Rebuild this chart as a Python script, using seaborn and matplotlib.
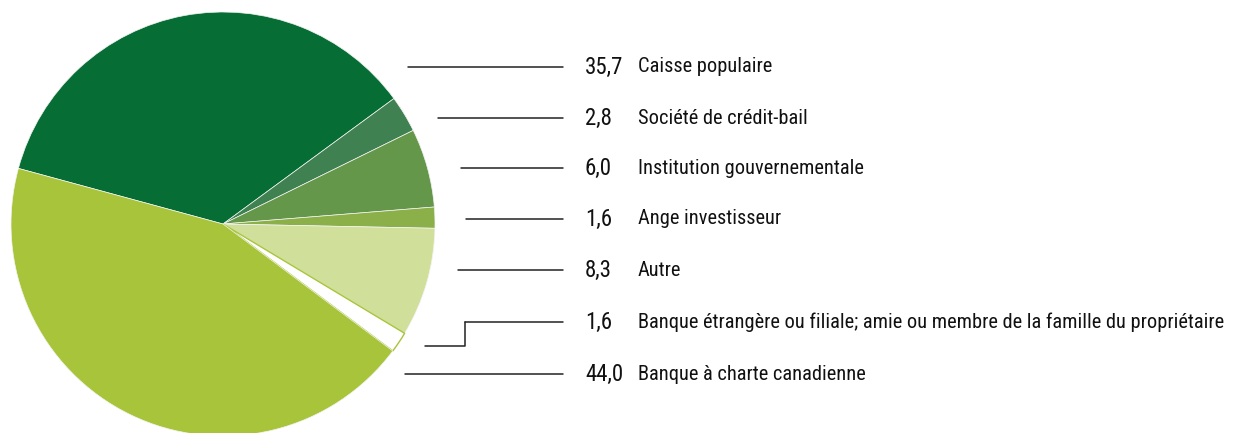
import numpy as np
import matplotlib.pyplot as plt
import seaborn as sns

categories = ['Caisse populaire', 'Société de crédit-bail', 'Institution gouvernementale',
              'Ange investisseur', 'Autre',
              'Banque étrangère ou filiale; amie ou membre de la famille du propriétaire',
              'Banque à charte canadienne']
values = [35.7, 2.8, 6.0, 1.6, 8.3, 1.6, 44.0]
value_labels = ['35,7', '2,8', '6,0', '1,6', '8,3', '1,6', '44,0']
colors = ['#066e34', '#3f8150', '#64974a', '#8bb04a', '#d0e09a', '#ffffff', '#a8c43a']

sns.set_theme(style='white')
plt.rcParams['font.family'] = ['Roboto Condensed', 'Liberation Sans Narrow', 'Roboto', 'DejaVu Sans']

W, H = 1235, 433
fig = plt.figure(figsize=(W / 100, H / 100), dpi=100)

# pie axes: centre (223, 224) px, radius 212 px
cx, cy, r = 223, 224, 212
ax = fig.add_axes([(cx - r) / W, (H - cy - r) / H, 2 * r / W, 2 * r / H])
wedges, _ = ax.pie(values, colors=colors, startangle=164.8, counterclock=False,
                   radius=1, wedgeprops=dict(linewidth=0.5, edgecolor='#f4f4f4'))
wedges[5].set_edgecolor('#a8c43a')
wedges[5].set_linewidth(1.0)
ax.set_xlim(-1, 1)
ax.set_ylim(-1, 1)
ax.set_aspect('equal')
ax.axis('off')

# overlay for labels and leader lines, pixel coordinates
ov = fig.add_axes([0, 0, 1, 1], zorder=-1)
ov.set_xlim(0, W)
ov.set_ylim(H, 0)
ov.axis('off')
ov.patch.set_alpha(0)

label_y = [67, 118, 168, 219, 270, 322, 374]
line_start = [408, 438, 461, 466, 458, 465, 405]

# pick a font size so the longest label fits the width it has in the reference
fs = 13.5
renderer = fig.canvas.get_renderer()
probe = ov.text(638, 0, categories[5], fontsize=fs)
wpx = probe.get_window_extent(renderer).width
probe.remove()
fs = fs * 585 / wpx

for i, (cat, lab, y) in enumerate(zip(categories, value_labels, label_y)):
    ov.plot([line_start[i], 563], [y, y], color='#222222', lw=1.1)
    ov.text(585, y, lab, fontsize=fs * 1.12, va='center', ha='left', color='#111111')
    ov.text(638, y, cat, fontsize=fs, va='center', ha='left', color='#111111')
# stepped leader for the small white slice
ov.plot([425, 465, 465], [346, 346, 322], color='#222222', lw=1.1)

fig.savefig('out.png', dpi=100)
